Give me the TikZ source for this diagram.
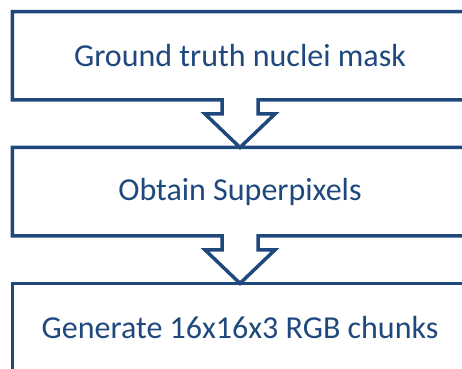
\documentclass[tikz,border=0pt]{standalone}
\usepackage{fontspec}
\setmainfont{Carlito}
\usepackage{tikz}
\usetikzlibrary{positioning, calc}
\definecolor{darkblue}{RGB}{31,73,125}

\begin{document}
\begin{tikzpicture}[x=1pt, y=1pt,
		every node/.style={text=darkblue, font=\fontsize{32}{38}\selectfont},
		stage/.style={minimum width=455pt, minimum height=88pt, inner sep=0pt},
		outline/.style={darkblue, line width=3.5pt}]
		\useasboundingbox (0,0) rectangle (462,-368);
		\pgfmathsetmacro{\shaft}{18}
		\pgfmathsetmacro{\wing}{35}
		\pgfmathsetmacro{\neck}{14}
		
		\node[stage] (truth) at (240,-55.75) {Ground truth nuclei mask};
		\node[stage, below=47.5pt of truth] (superpix) {Obtain Superpixels};
		\node[stage, below=47.5pt of superpix] (chunks) {Generate 16x16x3 RGB chunks};
		
		\draw[outline] (truth.south west) -- ($(truth.south)+(-\shaft,0)$) -- ++(0,-\neck) -- ++(\shaft-\wing,0) -- (superpix.north) -- ($(truth.south)+(\wing,-\neck)$) -- ++(\shaft-\wing,0) -- ($(truth.south)+(\shaft,0)$) -- (truth.south east) -- (truth.north east) -- (truth.north west) -- cycle;
		\draw[outline] (superpix.south west) -- ($(superpix.south)+(-\shaft,0)$) -- ++(0,-\neck) -- ++(\shaft-\wing,0) -- (chunks.north) -- ($(superpix.south)+(\wing,-\neck)$) -- ++(\shaft-\wing,0) -- ($(superpix.south)+(\shaft,0)$) -- (superpix.south east) -- (superpix.north east) -- (superpix.north west) -- cycle;
		\draw[outline] (chunks.north west) rectangle (chunks.south east);
		
\end{tikzpicture}
\end{document}
